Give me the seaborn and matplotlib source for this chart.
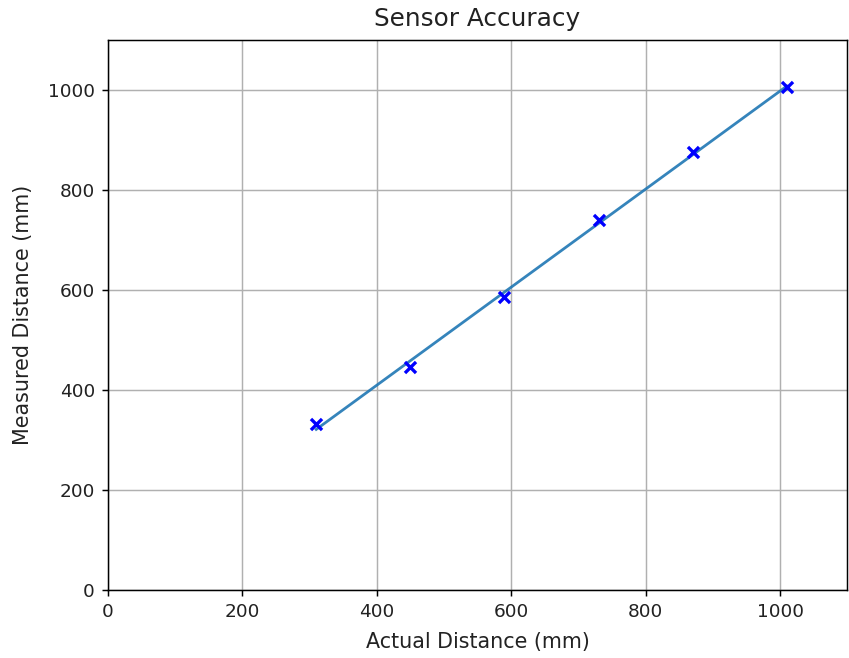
import matplotlib
matplotlib.use("Agg")
import matplotlib.pyplot as plt
import seaborn as sns
import numpy as np

# data
actual = np.array([310, 450, 590, 730, 870, 1010])
measured = np.array([333, 447, 587, 740, 876, 1006])

# reference looks like a default matplotlib figure rendered ~1.33x larger
k = 1.33
plt.rcParams.update({
    'font.size': 10 * k,
    'axes.titlesize': 17.8,
    'axes.labelsize': 14.9,
    'xtick.labelsize': 10 * k,
    'ytick.labelsize': 10 * k,
    'axes.linewidth': 0.8 * k,
    'xtick.major.width': 0.8 * k,
    'ytick.major.width': 0.8 * k,
    'xtick.major.size': 3.5 * k,
    'ytick.major.size': 3.5 * k,
    'xtick.major.pad': 3.5 * k,
    'ytick.major.pad': 3.5 * k,
    'axes.titlepad': 10,
    'text.color': '#222222',
    'axes.labelcolor': '#222222',
    'xtick.labelcolor': '#222222',
    'ytick.labelcolor': '#222222',
})

fig, ax = plt.subplots(figsize=(8.49, 6.58), dpi=100)

# fitted line (least squares, no confidence band)
sns.regplot(x=actual, y=measured, ci=None, scatter=False, ax=ax,
            line_kws={'color': '#1f77b4', 'linewidth': 1.5 * k, 'alpha': 0.9})
# measured points
sns.scatterplot(x=actual, y=measured, marker='x', color='blue', s=36 * k * k,
                linewidth=1.8 * k, ax=ax, zorder=3)

ax.set_xlim(0, 1100)
ax.set_ylim(0, 1100)
ax.set_xticks([0, 200, 400, 600, 800, 1000])
ax.set_yticks([0, 200, 400, 600, 800, 1000])
ax.grid(True, color='#b0b0b0', linewidth=0.8 * k)
ax.set_axisbelow(True)
ax.set_xlabel('Actual Distance (mm)', labelpad=7.5)
ax.set_ylabel('Measured Distance (mm)', labelpad=10.5)
ax.set_title('Sensor Accuracy')

plt.subplots_adjust(left=0.127, right=0.998, top=0.939, bottom=0.103)
plt.savefig('out.png', dpi=100)
